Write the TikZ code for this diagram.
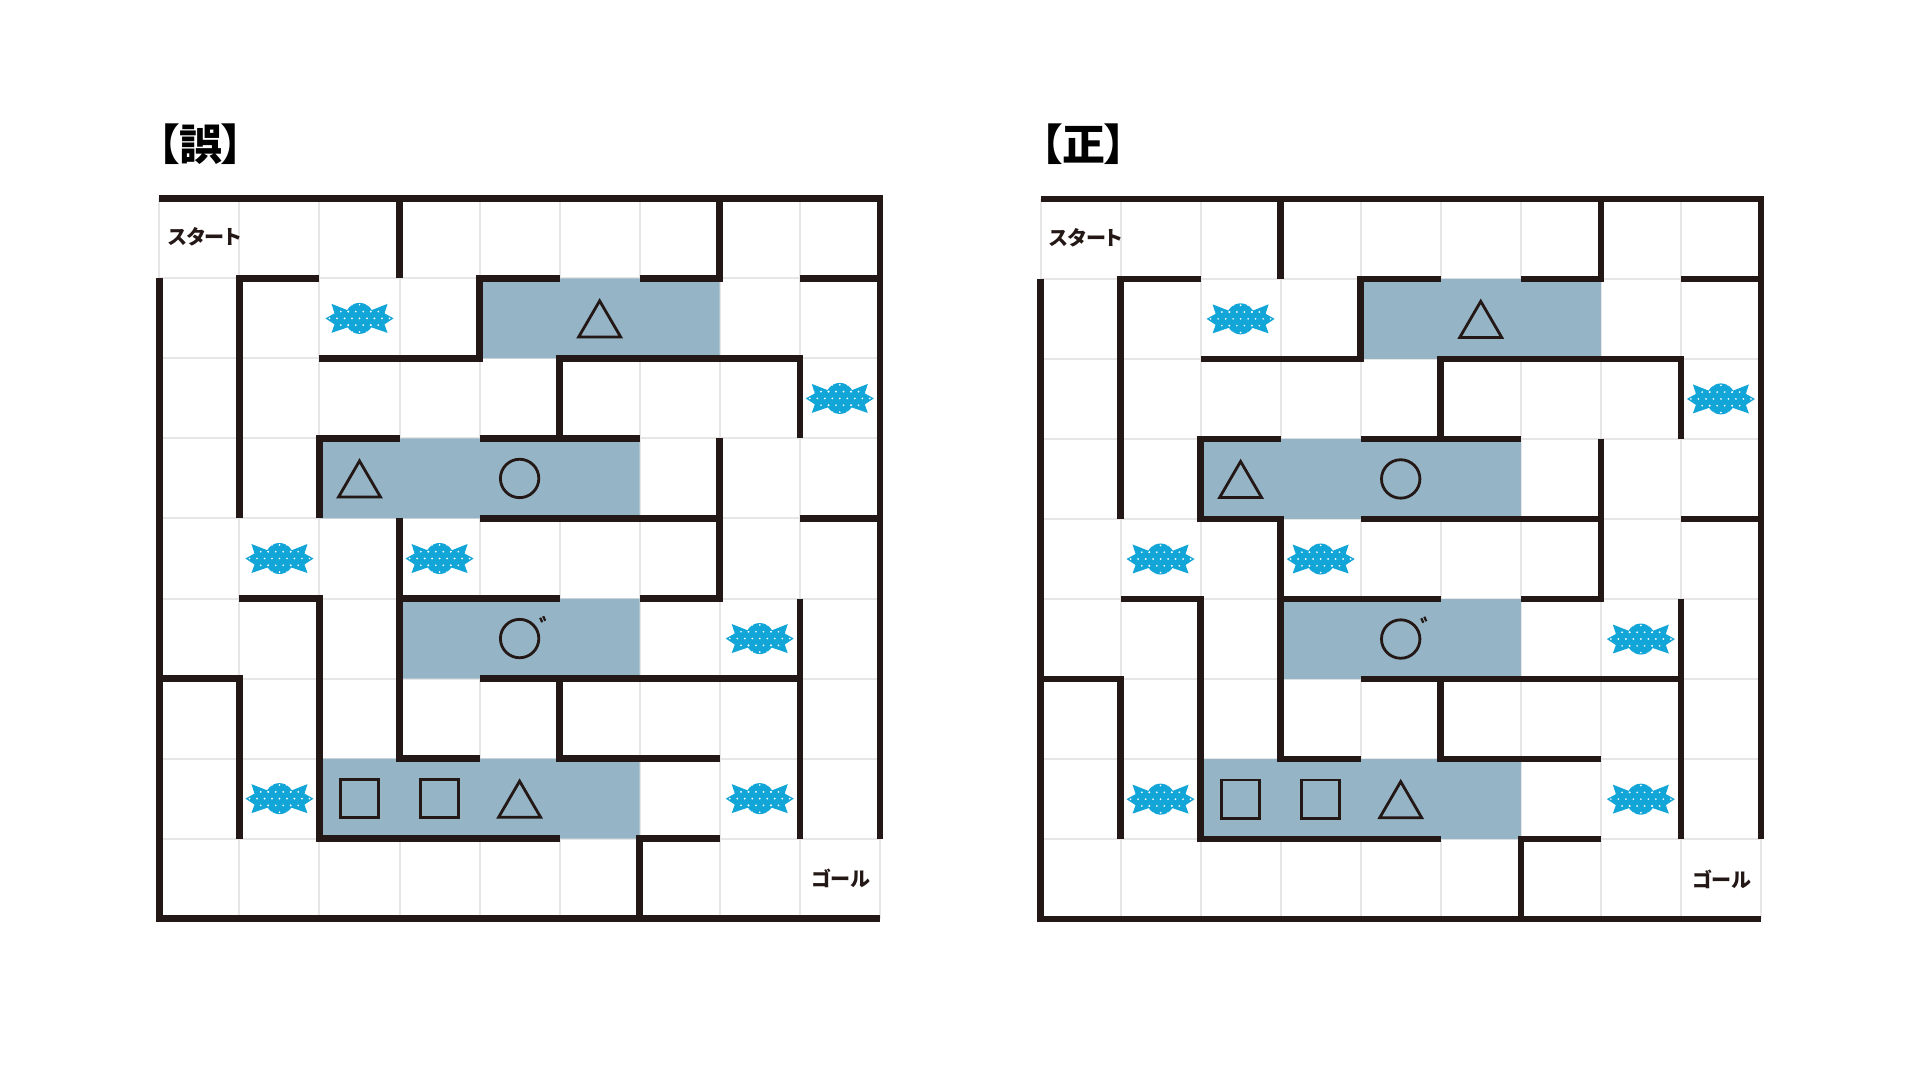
\documentclass[tikz,border=0pt]{standalone}
\usepackage{fontspec}
\newfontfamily\jpfont[RawFeature=+palt]{Noto Sans CJK JP}
\definecolor{wallc}{HTML}{231815}
\definecolor{roomc}{HTML}{95B4C6}
\definecolor{gridc}{HTML}{E6E6E6}
\definecolor{candyc}{HTML}{12A5D8}
\tikzset{
  wall/.style={draw=wallc, line width=0.065cm, line join=miter, line cap=butt},
  roomfill/.style={fill=roomc},
  gridline/.style={draw=gridc, line width=0.02cm},
  symb/.style={draw=wallc, line width=0.028cm, line join=miter},
  lbl/.style={inner sep=0pt, font=\jpfont\bfseries\fontsize{5.7pt}{7pt}\selectfont, text=wallc},
  ttl/.style={inner sep=0pt, anchor=west, font=\jpfont\bfseries\fontsize{12.2pt}{14pt}\selectfont, text=black},
  candy/.pic={
    \begin{scope}[x=0.01cm,y=-0.01cm]
      \fill[candyc] (9,-7) -- (28,-14.5) -- (25,-5) -- (34,0) -- (25,6) -- (28,14.5) -- (9,8) -- cycle;
      \fill[candyc] (-9,-7) -- (-28,-14.5) -- (-25,-5) -- (-34,0) -- (-25,6) -- (-28,14.5) -- (-9,8) -- cycle;
      \fill[candyc] (0,0) ellipse [x radius=0.145cm, y radius=0.155cm];
      \begin{scope}
        \clip (0,0) ellipse [x radius=0.145cm, y radius=0.155cm];
        \foreach \j in {0,...,4}{\foreach \i in {-5,...,5}{
          \fill[white] ({\i*7.5+mod(\j,2)*3.75},{(\j-2)*6.8}) circle [radius=0.0095cm];}}
      \end{scope}
      \begin{scope}
        \clip (9,-7) -- (28,-14.5) -- (25,-5) -- (34,0) -- (25,6) -- (28,14.5) -- (9,8) -- cycle;
        \foreach \j in {0,...,4}{\foreach \i in {-5,...,5}{
          \fill[white] ({\i*7.5+mod(\j,2)*3.75},{(\j-2)*6.8}) circle [radius=0.0095cm];}}
      \end{scope}
      \begin{scope}
        \clip (-9,-7) -- (-28,-14.5) -- (-25,-5) -- (-34,0) -- (-25,6) -- (-28,14.5) -- (-9,8) -- cycle;
        \foreach \j in {0,...,4}{\foreach \i in {-5,...,5}{
          \fill[white] ({\i*7.5+mod(\j,2)*3.75},{(\j-2)*6.8}) circle [radius=0.0095cm];}}
      \end{scope}
    \end{scope}
  },
  tri/.pic={\begin{scope}[x=0.01cm,y=-0.01cm]
      \draw[symb] (-21,18.6) -- (0,-17.5) -- (21,18.6) -- cycle;
    \end{scope}},
  circ/.pic={\begin{scope}[x=0.01cm,y=-0.01cm]
      \draw[symb] (0,0) circle [radius=0.192cm];
    \end{scope}},
  dcirc/.pic={\begin{scope}[x=0.01cm,y=-0.01cm]
      \draw[symb] (0,0) circle [radius=0.192cm];
      \draw[wallc, line width=0.022cm] (20.6,-20.8) -- (22.6,-16.3) (23.6,-22.3) -- (25.6,-17.8);
    \end{scope}},
  sqr/.pic={\begin{scope}[x=0.01cm,y=-0.01cm]
      \draw[symb] (-19.2,-19.2) rectangle (19.2,19.2);
    \end{scope}},
}
\newcommand\mymaze[4]{%
\begin{scope}[shift={(#1,#2)}, x=0.8cm, y=-0.8cm]
  \foreach \k in {0,...,9}{
    \draw[gridline] (\k,0) -- (\k,9);
    \draw[gridline] (0,\k) -- (9,\k);}
  \fill[roomfill] (4,1) rectangle (7,2) (2,3) rectangle (6,4) (3,5) rectangle (6,6) (2,7) rectangle (6,8);
  % outer frame
  \draw[wall] (0,0) -- (9,0) -- (9,8);
  \draw[wall] (0,1) -- (0,9) -- (9,9);
  % inner walls
  \draw[wall] (3,0) -- (3,1);
  \draw[wall] (6,1) -- (7,1) -- (7,0);
  \draw[wall] (8,1) -- (9,1);
  \draw[wall] (2,1) -- (1,1) -- (1,4);
  \draw[wall] (2,2) -- (4,2) -- (4,1) -- (5,1);
  \draw[wall] (5,3) -- (5,2) -- (8,2) -- (8,3);
  \draw[wall] (4,3) -- (6,3);
  \draw[wall] (4,4) -- (7,4);
  \draw[wall] (7,3) -- (7,5) -- (6,5);
  \draw[wall] (8,4) -- (9,4);
  \draw[wall] (1,5) -- (2,5) -- (2,8) -- (5,8);
  \draw[wall] (3,5) -- (5,5);
  \draw[wall] (8,5) -- (8,8);
  \draw[wall] (4,6) -- (8,6);
  \draw[wall] (5,6) -- (5,7) -- (7,7);
  \draw[wall] (0,6) -- (1,6) -- (1,8);
  \draw[wall] (6,9) -- (6,8) -- (7,8);
  #3
  % symbols
  \pic at (5.5,1.5) {tri};
  \pic at (2.5,3.5) {tri};
  \pic at (4.5,3.5) {circ};
  \pic at (4.5,5.5) {dcirc};
  \pic at (2.5,7.5) {sqr};
  \pic at (3.5,7.5) {sqr};
  \pic at (4.5,7.5) {tri};
  % candies
  \pic at (2.5,1.5) {candy};
  \pic at (8.5,2.5) {candy};
  \pic at (1.5,4.5) {candy};
  \pic at (3.5,4.5) {candy};
  \pic at (7.5,5.5) {candy};
  \pic at (1.5,7.5) {candy};
  \pic at (7.5,7.5) {candy};
  % labels
  \node[lbl, anchor=west] (#4start) at (0.1,0.485) {スタート};
  \node[lbl, anchor=east] (#4goal) at (8.885,8.5) {ゴール};
\end{scope}}
\begin{document}
\begin{tikzpicture}[x=0.01cm,y=-0.01cm]
  \useasboundingbox (0,0) rectangle (1920,1080);
  \fill[white] (0,0) rectangle (1920,1080);
  \node[ttl] (titleA) at (157,144) {【誤】};
  \node[ttl] (titleB) at (1040,144) {【正】};
  \mymaze{159.4}{198.3}{\draw[wall] (3,3) -- (2,3) -- (2,4); \draw[wall] (3,4) -- (3,7) -- (4,7);}{A}
  \mymaze{1040.5}{198.8}{\draw[wall] (3,3) -- (2,3) -- (2,4) -- (3,4) -- (3,7) -- (4,7);}{B}
\end{tikzpicture}
\end{document}
